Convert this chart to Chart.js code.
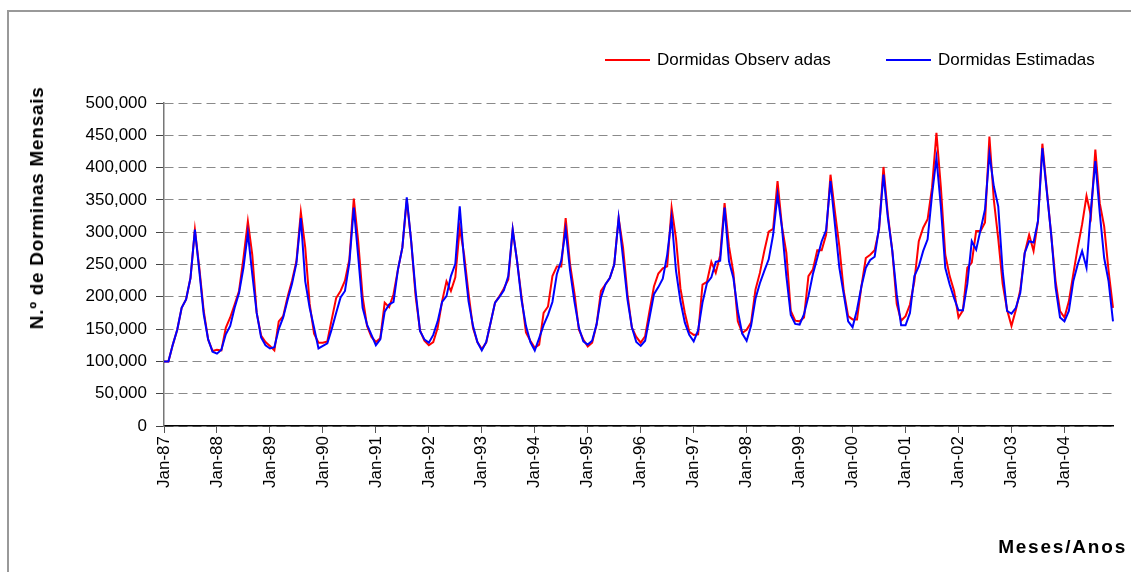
<!DOCTYPE html>
<html lang="pt">
<head>
    <meta charset="UTF-8">
    <title>Dormidas Mensais</title>
    <script src="https://cdn.jsdelivr.net/npm/chart.js"></script>
    <style>
        body {
            margin: 0;
            background: #ffffff;
            font-family: 'Liberation Sans', Arial, sans-serif;
        }
        .wrap {
            position: relative;
            width: 1131px;
            height: 572px;
            overflow: hidden;
        }
        .frame {
            position: absolute;
            left: 7px;
            top: 10px;
            width: 1200px;
            height: 700px;
            border-top: 2px solid #999999;
            border-left: 2px solid #999999;
        }
        canvas {
            position: absolute;
            left: 0;
            top: 0;
        }
        .legend-item {
            position: absolute;
            top: 50px;
            font-size: 17px;
            color: #000;
            white-space: nowrap;
        }
        .legend-line {
            display: inline-block;
            width: 45px;
            height: 2px;
            vertical-align: middle;
            margin-right: 7px;
            position: relative;
            top: -1px;
        }
        .y-title {
            position: absolute;
            left: 37px;
            top: 208px;
            transform: translate(-50%, -50%) rotate(-90deg);
            font-size: 19px;
            font-weight: bold;
            letter-spacing: 0.7px;
            white-space: nowrap;
        }
        .x-title {
            position: absolute;
            right: 4px;
            top: 536px;
            font-size: 19px;
            font-weight: bold;
            letter-spacing: 1.8px;
            white-space: nowrap;
        }
    </style>
</head>
<body>
<div class="wrap">
    <div class="frame"></div>
    <canvas id="chart" width="1131" height="572"></canvas>
    <div class="legend-item" style="left:605px"><span class="legend-line" style="background:#ff0000"></span>Dormidas Observ adas</div>
    <div class="legend-item" style="left:886px"><span class="legend-line" style="background:#0000ff"></span>Dormidas Estimadas</div>
    <div class="y-title">N.º de Dorminas Mensais</div>
    <div class="x-title">Meses/Anos</div>
</div>

<script>
    // years and months of the series (Jan-87 .. Dec-04)
    const years = ['87', '88', '89', '90', '91', '92', '93', '94', '95',
                   '96', '97', '98', '99', '00', '01', '02', '03', '04'];
    const months = ['Jan', 'Feb', 'Mar', 'Apr', 'May', 'Jun', 'Jul', 'Aug', 'Sep', 'Oct', 'Nov', 'Dec'];

    // y axis ticks
    const yTicks = [0, 50000, 100000, 150000, 200000, 250000, 300000, 350000, 400000, 450000, 500000];

    // Dormidas observadas (thousands), one row per year, Jan..Dec
    const observadas = [
        100, 100, 126, 149, 183, 196, 229, 304, 245, 178, 134, 116,
        118, 117, 152, 168, 188, 209, 260, 317, 265, 175, 140, 130,
        124, 117, 162, 170, 200, 225, 255, 331, 276, 189, 143, 129,
        129, 131, 165, 198, 209, 225, 258, 352, 286, 200, 155, 138,
        130, 136, 191, 184, 204, 242, 276, 350, 286, 201, 148, 132,
        125, 130, 152, 193, 224, 209, 230, 307, 265, 205, 152, 130,
        119, 129, 160, 191, 201, 213, 227, 304, 255, 200, 145, 132,
        121, 126, 175, 185, 232, 247, 247, 322, 250, 205, 149, 134,
        123, 129, 157, 209, 219, 229, 250, 322, 276, 204, 152, 138,
        129, 139, 178, 216, 236, 244, 247, 338, 290, 213, 175, 146,
        141, 142, 219, 223, 254, 237, 264, 345, 278, 237, 162, 144,
        149, 160, 211, 237, 271, 301, 305, 379, 309, 268, 178, 163,
        162, 168, 232, 242, 272, 272, 296, 389, 332, 278, 209, 170,
        165, 165, 216, 260, 265, 272, 304, 401, 327, 271, 189, 163,
        170, 188, 224, 286, 307, 320, 369, 454, 370, 265, 232, 209,
        168, 179, 245, 253, 302, 302, 315, 448, 350, 290, 220, 180,
        155, 180, 211, 268, 296, 271, 317, 437, 366, 296, 224, 178,
        168, 193, 235, 276, 312, 356, 325, 428, 345, 309, 240, 183
    ];

    // Dormidas estimadas (thousands)
    const estimadas = [
        100, 100, 126, 149, 183, 196, 229, 304, 240, 173, 134, 115,
        112, 118, 142, 155, 183, 206, 245, 299, 235, 175, 137, 125,
        120, 122, 150, 168, 195, 220, 252, 322, 224, 183, 152, 120,
        124, 128, 150, 175, 199, 209, 253, 338, 262, 183, 157, 141,
        125, 134, 177, 188, 192, 242, 276, 354, 286, 209, 147, 134,
        129, 141, 162, 192, 201, 232, 251, 340, 255, 193, 155, 130,
        117, 130, 160, 191, 200, 210, 232, 304, 255, 195, 155, 130,
        117, 136, 156, 172, 192, 235, 256, 304, 240, 192, 152, 131,
        126, 132, 157, 199, 219, 229, 250, 322, 260, 196, 153, 130,
        124, 132, 168, 204, 215, 228, 265, 322, 240, 193, 160, 141,
        131, 148, 191, 221, 230, 254, 256, 338, 255, 229, 178, 143,
        132, 155, 197, 221, 240, 258, 296, 358, 307, 232, 172, 158,
        157, 173, 201, 235, 260, 286, 303, 379, 312, 245, 204, 162,
        153, 180, 216, 245, 257, 262, 307, 389, 322, 271, 204, 156,
        156, 175, 232, 247, 271, 289, 358, 415, 340, 245, 219, 198,
        179, 179, 220, 286, 273, 304, 335, 421, 371, 340, 240, 178,
        174, 183, 206, 268, 286, 284, 317, 430, 363, 296, 214, 168,
        162, 178, 224, 250, 271, 245, 335, 410, 330, 260, 224, 162
    ];

    const labels = [];
    years.forEach(y => months.forEach(m => labels.push(m + '-' + y)));

    const fontFamily = "'Liberation Sans', Arial, sans-serif";

    new Chart(document.getElementById('chart').getContext('2d'), {
        type: 'line',
        data: {
            labels: labels,
            datasets: [{
                label: 'Dormidas Estimadas',
                data: estimadas.map(v => v * 1000),
                borderColor: '#0000ff',
                borderWidth: 2,
                pointRadius: 0,
                tension: 0,
                order: 0
            }, {
                label: 'Dormidas Observadas',
                data: observadas.map(v => v * 1000),
                borderColor: '#ff0000',
                borderWidth: 2,
                pointRadius: 0,
                tension: 0,
                order: 1
            }]
        },
        options: {
            responsive: false,
            animation: false,
            devicePixelRatio: 1,
            layout: {
                padding: { left: 0, top: 103, right: 18, bottom: 0 }
            },
            plugins: {
                legend: { display: false },
                tooltip: { enabled: false }
            },
            scales: {
                x: {
                    offset: false,
                    afterFit: scale => {
                        scale.height = 146;
                        scale.paddingLeft = 0;
                        scale.paddingRight = 0;
                    },
                    border: { display: true, color: '#000000', width: 1.5 },
                    grid: {
                        drawOnChartArea: false,
                        drawTicks: true,
                        tickLength: 7,
                        tickColor: ctx => (ctx.index % 12 === 0 ? '#555555' : 'rgba(0,0,0,0)')
                    },
                    ticks: {
                        autoSkip: false,
                        maxRotation: 90,
                        minRotation: 90,
                        padding: 3,
                        color: '#000000',
                        font: { family: fontFamily, size: 17 },
                        callback: (val, idx) => (idx % 12 === 0 ? labels[idx] : '')
                    }
                },
                y: {
                    min: 0,
                    max: 500000,
                    afterFit: scale => { scale.width = 164; },
                    afterBuildTicks: scale => { scale.ticks = yTicks.map(v => ({ value: v })); },
                    border: { display: true, color: '#777777', width: 1.5, dash: [9, 5] },
                    grid: {
                        color: '#8a8a8a',
                        lineWidth: 1,
                        drawTicks: true,
                        tickLength: 8,
                        tickColor: '#444444',
                        tickBorderDash: []
                    },
                    ticks: {
                        padding: 9,
                        color: '#000000',
                        font: { family: fontFamily, size: 17 },
                        callback: v => v.toLocaleString('en-US')
                    }
                }
            }
        }
    });
</script>
</body>
</html>
